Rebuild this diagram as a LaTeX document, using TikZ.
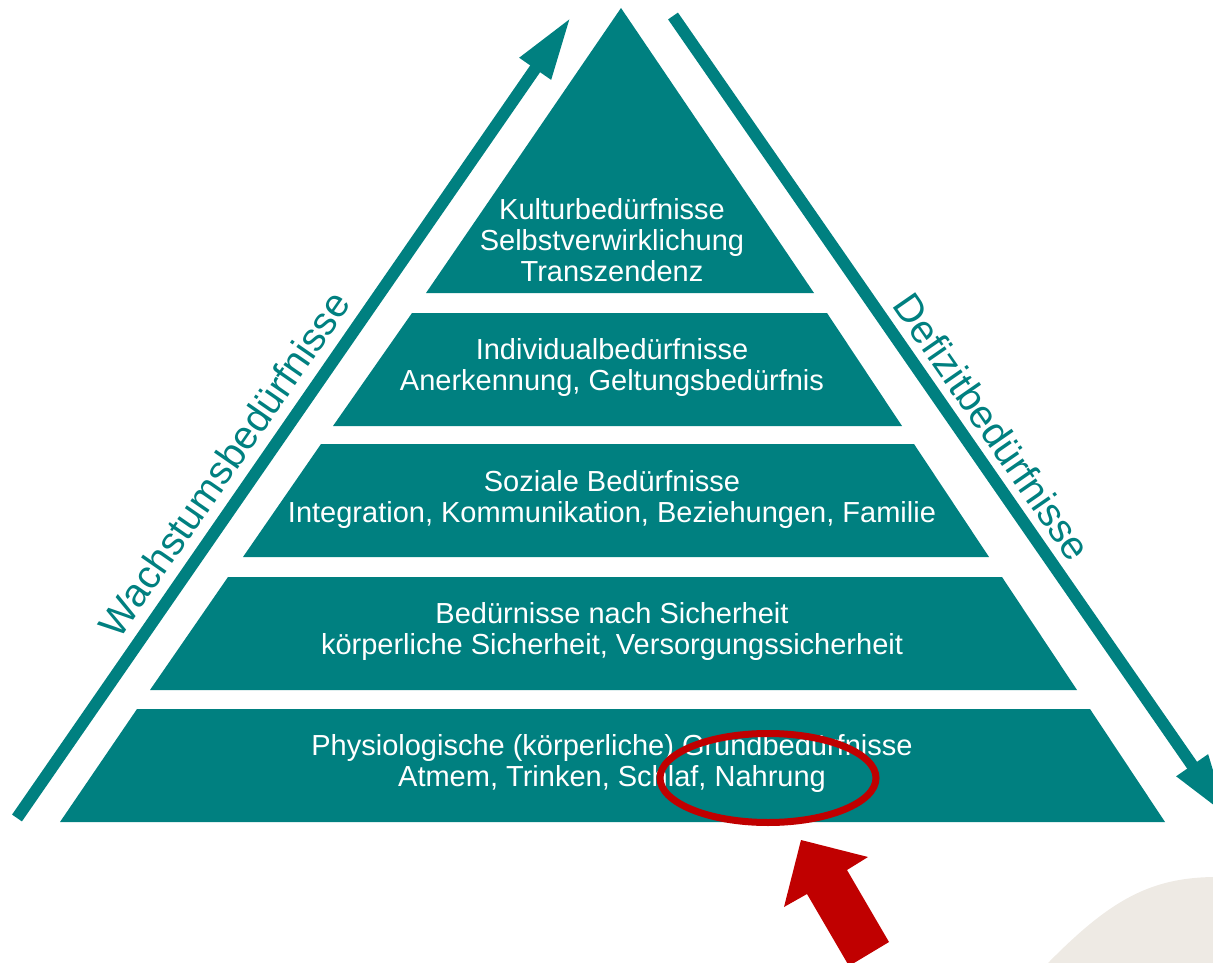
\documentclass[tikz,border=0pt]{standalone}
\usepackage{fontspec}
\setmainfont{Liberation Sans}
\usepackage{tikz}
\usetikzlibrary{arrows.meta}
\definecolor{pyrteal}{RGB}{0,128,128}
\definecolor{markred}{RGB}{192,0,0}
\definecolor{paper}{RGB}{238,234,228}

\begin{document}
\begin{tikzpicture}[>={Triangle[length=63pt,width=35pt]},x=1pt,y=-1pt,node distance=132pt,
    layer/.style={fill=pyrteal},
    lbl/.style={text=white,align=center,inner sep=0pt,font=\fontsize{29}{31}\selectfont},
    side/.style={text=pyrteal,inner sep=0pt,anchor=base,font=\fontsize{39.5}{41}\selectfont},
    shaft/.style={draw=pyrteal,line width=12pt}]
    \useasboundingbox (0,0) rectangle (1213,963);
    \clip (0,0) rectangle (1213,963);
    % background
    \fill[paper] (1048,963) .. controls (1110,900) and (1150,878) .. (1213,877) -- (1213,963) -- cycle;
    % pyramid
    \fill[layer] (621,8) -- (814,293) -- (426,293) -- cycle;
    \fill[layer] (412,313) -- (827,313) -- (902,426) -- (333,426) -- cycle;
    \fill[layer] (321,444) -- (914,444) -- (989,557) -- (243,557) -- cycle;
    \fill[layer] (228,577) -- (1002,577) -- (1077,690) -- (150,690) -- cycle;
    \fill[layer] (137,709) -- (1090,709) -- (1165,822) -- (60,822) -- cycle;
    \node[lbl] (kultur) at (612,240) {Kulturbedürfnisse\\Selbstverwirklichung\\Transzendenz};
    \node[lbl] (indiv) at (612,367) {Individualbedürfnisse\\Anerkennung, Geltungsbedürfnis};
    \node[lbl] (sozial) [below of = indiv] {Soziale Bedürfnisse\\Integration, Kommunikation, Beziehungen, Familie};
    \node[lbl] (sicher) [below of = sozial] {Bedürnisse nach Sicherheit\\körperliche Sicherheit, Versorgungssicherheit};
    \node[lbl] (physio) [below of = sicher] {Physiologische (körperliche) Grundbedürfnisse\\Atmem, Trinken, Schlaf, Nahrung};
    % side arrows
    \coordinate (w0) at (17,818);
    \coordinate (w1) at (571,17);
    \coordinate (d0) at (673,16);
    \coordinate (d1) at (1228,817);
    \draw[shaft,->] (w0) -- (w1);
    \draw[shaft,->] (d0) -- (d1);
    \node[side,rotate=55.3] (wachstum) at (236,472) {Wachstumsbedürfnisse};
    \node[side,rotate=-55.3] (defizit) at (981,435) {Defizitbedürfnisse};
    % red marker
    \draw[markred,line width=7pt] (768,778) ellipse [x radius=108pt, y radius=44.5pt];
    \fill[markred] (801,840) -- (868,857) -- (847,870) -- (889,942) -- (849,966) -- (807,894) -- (784,907) -- cycle;
\end{tikzpicture}
\end{document}
